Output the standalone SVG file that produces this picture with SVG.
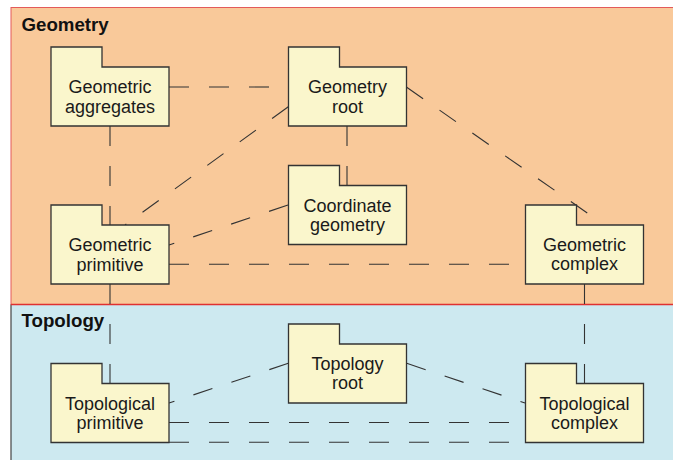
<svg xmlns="http://www.w3.org/2000/svg" width="673" height="460" viewBox="0 0 673 460">
  <style>
    .title { font-family: "Liberation Sans", Arial, sans-serif; font-weight: bold; font-size: 18.7px; fill: #111; }
    .pkg { fill: #faf6cc; stroke: #333; stroke-width: 1.3; stroke-linejoin: miter; }
    .lbl { font-family: "Liberation Sans", Arial, sans-serif; font-size: 18px; fill: #1a1a1a; text-anchor: middle; }
    .dep { fill: none; stroke: #333; stroke-width: 1.1; stroke-dasharray: 20 20; }
  </style>
  <defs>
    <!-- folder-shaped package outline: tab 51x20, body 118x59 -->
    <path id="folder" d="M0,0 H51 V20 H118 V79 H0 Z"/>
  </defs>

  <rect width="673" height="460" fill="#ffffff"/>

  <!-- package areas -->
  <g id="geometry-area">
    <rect x="11" y="7.5" width="670" height="297" fill="#f9c99a" stroke="#e35a5a" stroke-width="1"/>
    <text class="title" x="21.5" y="30.7">Geometry</text>
  </g>
  <g id="topology-area">
    <rect x="11" y="304.5" width="670" height="170" fill="#cde9f0"/>
    <line x1="11" y1="304.5" x2="11" y2="460" stroke="#444" stroke-width="1.2"/>
    <line x1="11" y1="304.5" x2="673" y2="304.5" stroke="#e03030" stroke-width="1.6"/>
    <text class="title" x="21.5" y="326.7">Topology</text>
  </g>

  <!-- dependency connectors -->
  <g id="connectors">
    <line class="dep" x1="169" y1="87" x2="288" y2="87"/>
    <line class="dep" x1="110" y1="126" x2="110" y2="225"/>
    <line class="dep" x1="347" y1="126" x2="347" y2="185"/>
    <line class="dep" x1="288.3" y1="106.7" x2="125" y2="225"/>
    <line class="dep" x1="288" y1="205" x2="169" y2="245"/>
    <line class="dep" x1="169" y1="264.3" x2="525" y2="264.3"/>
    <line class="dep" x1="406.7" y1="87.3" x2="587.7" y2="213.3"/>
    <line class="dep" x1="110" y1="284" x2="110" y2="383"/>
    <line class="dep" x1="584.5" y1="284" x2="584.5" y2="383"/>
    <line class="dep" x1="288.3" y1="363.3" x2="169" y2="403"/>
    <line class="dep" x1="406.7" y1="363.3" x2="525" y2="403"/>
    <line class="dep" x1="169" y1="422.5" x2="525" y2="422.5"/>
    <line class="dep" x1="169" y1="442.3" x2="525" y2="442.3"/>
  </g>

  <!-- packages -->
  <g id="geometric-aggregates">
    <use href="#folder" class="pkg" x="51" y="47"/>
    <text class="lbl" x="110" y="93.3">Geometric</text>
    <text class="lbl" x="110" y="112.8">aggregates</text>
  </g>
  <g id="geometry-root">
    <use href="#folder" class="pkg" x="288.5" y="47"/>
    <text class="lbl" x="347.5" y="93.3">Geometry</text>
    <text class="lbl" x="347.5" y="112.8">root</text>
  </g>
  <g id="coordinate-geometry">
    <use href="#folder" class="pkg" x="288.5" y="165.5"/>
    <text class="lbl" x="347.5" y="211.5">Coordinate</text>
    <text class="lbl" x="347.5" y="231">geometry</text>
  </g>
  <g id="geometric-primitive">
    <use href="#folder" class="pkg" x="51" y="205"/>
    <text class="lbl" x="110" y="251">Geometric</text>
    <text class="lbl" x="110" y="270.5">primitive</text>
  </g>
  <g id="geometric-complex">
    <use href="#folder" class="pkg" x="525.5" y="205"/>
    <text class="lbl" x="584.5" y="250.5">Geometric</text>
    <text class="lbl" x="584.5" y="270">complex</text>
  </g>
  <g id="topology-root">
    <use href="#folder" class="pkg" x="288.5" y="324"/>
    <text class="lbl" x="347.5" y="369.5">Topology</text>
    <text class="lbl" x="347.5" y="389">root</text>
  </g>
  <g id="topological-primitive">
    <use href="#folder" class="pkg" x="51" y="363.5"/>
    <text class="lbl" x="110" y="409.5">Topological</text>
    <text class="lbl" x="110" y="429">primitive</text>
  </g>
  <g id="topological-complex">
    <use href="#folder" class="pkg" x="525.5" y="363.5"/>
    <text class="lbl" x="584.5" y="409.5">Topological</text>
    <text class="lbl" x="584.5" y="429">complex</text>
  </g>
</svg>
